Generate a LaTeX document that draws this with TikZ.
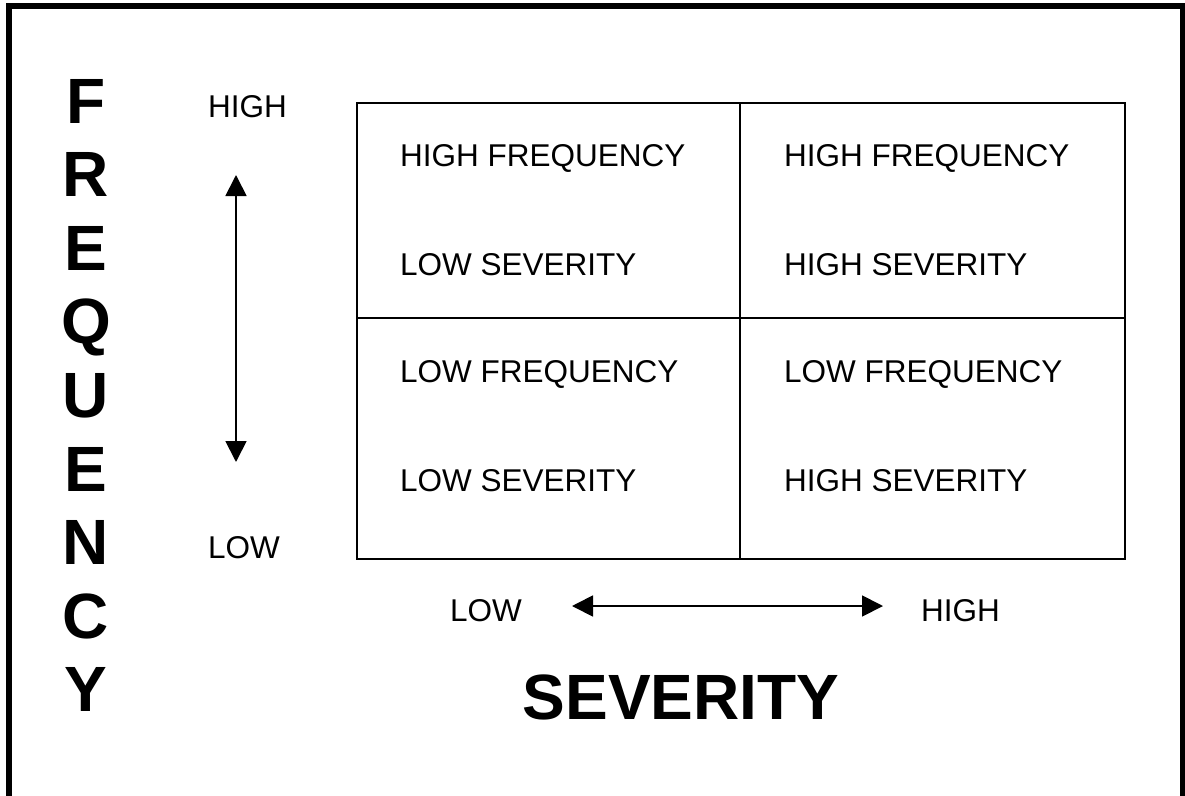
\documentclass[tikz,border=0pt]{standalone}
\usepackage{fontspec}
\setmainfont{Liberation Sans}
\usetikzlibrary{arrows.meta}
\begin{document}
\begin{tikzpicture}[x=1pt,y=-1pt,
  lbl/.style={inner sep=0pt,anchor=base west,font=\fontsize{31.5}{37}\selectfont},
  big/.style={inner sep=0pt,anchor=base,font=\fontsize{64}{74}\selectfont\bfseries},
  gridline/.style={line width=1.5pt},
  dblarrow/.style={line width=1.8pt,{Triangle[length=21pt,width=21pt]}-{Triangle[length=21pt,width=21pt]}}]
\useasboundingbox (0,0) rectangle (1185,795);
\clip (0,0) rectangle (1185,795);
% outer frame
\draw[line width=6pt] (9,6) rectangle (1183,830);
% grid
\node[draw,gridline,minimum width=768pt,minimum height=456pt,inner sep=0pt,anchor=north west] (grid) at (356,102) {};
\draw[gridline] (740,102) -- (740,558);
\draw[gridline] (356,318) -- (1124,318);
% cell texts
\node[lbl] (c1a) at (400,166) {HIGH FREQUENCY};
\node[lbl] (c1b) at (400,275) {LOW SEVERITY};
\node[lbl] (c2a) at (784,166) {HIGH FREQUENCY};
\node[lbl] (c2b) at (784,275) {HIGH SEVERITY};
\node[lbl] (c3a) at (400,382) {LOW FREQUENCY};
\node[lbl] (c3b) at (400,491) {LOW SEVERITY};
\node[lbl] (c4a) at (784,382) {LOW FREQUENCY};
\node[lbl] (c4b) at (784,491) {HIGH SEVERITY};
% frequency axis
\node[lbl] (fhigh) at (208,117) {HIGH};
\node[lbl] (flow) at (208,558) {LOW};
\coordinate (vtop) at (236,175);
\coordinate (vbot) at (236,462);
\draw[dblarrow] (vtop) -- (vbot);
% severity axis
\node[lbl] (slow) at (450,621) {LOW};
\node[lbl] (shigh) at (921,621) {HIGH};
\coordinate (hleft) at (572,606);
\coordinate (hright) at (883,606);
\draw[dblarrow] (hleft) -- (hright);
% titles
\node[big] (sev) at (681,719) {SEVERITY};
\foreach \l [count=\i] in {F,R,E,Q,U,E,N,C,Y}{
  \node[big] (fq\i) at (86,{123+73.6*(\i-1)}) {\l};
}
\end{tikzpicture}
\end{document}
